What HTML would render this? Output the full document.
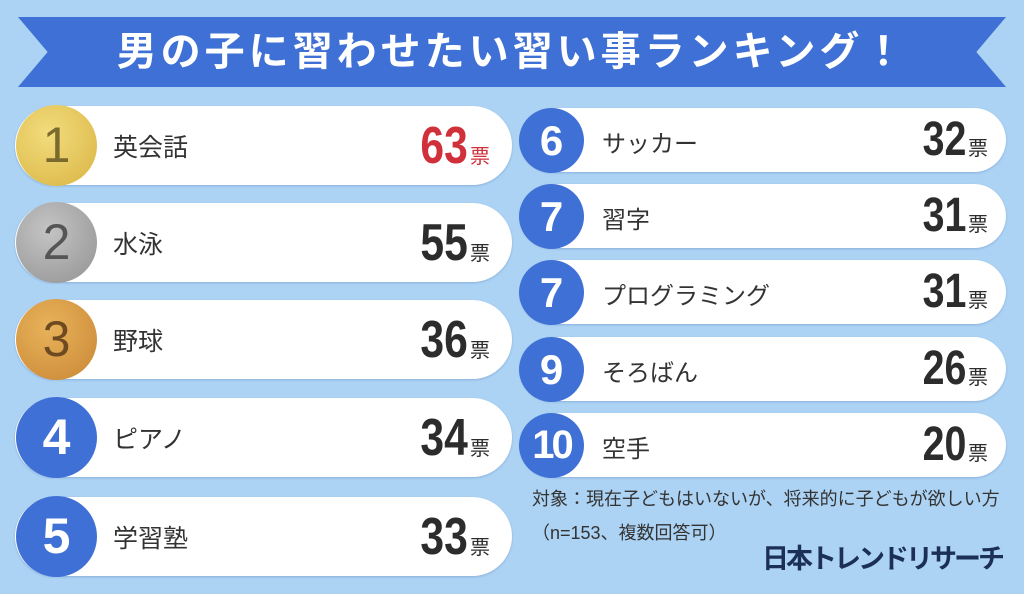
<!DOCTYPE html>
<html><head><meta charset="utf-8"><style>
*{margin:0;padding:0;box-sizing:border-box}
body{width:1024px;height:594px;background:#acd3f4;position:relative;overflow:hidden;font-family:"Liberation Sans","Noto Sans CJK JP",sans-serif;color:#333}
.ban{position:absolute;left:18px;top:17px;width:988px;height:70px;background:#3f70d5;clip-path:polygon(0 0,100% 0,97% 50%,100% 100%,0 100%,3% 50%)}
.title{position:absolute;left:0;width:1024px;top:22px;text-align:center;color:#fff;font-size:40px;font-weight:bold;line-height:60px;letter-spacing:4px}
.pill{position:absolute;background:#fff;border-radius:40px;box-shadow:0 1px 2px rgba(60,100,160,.3)}
.c{position:absolute;border-radius:50%;text-align:center;color:#fff;font-weight:bold}
.nm{position:absolute;font-size:25px;color:#333}
.v{position:absolute;text-align:right;font-weight:bold;color:#2c2c2c}
.v span.n{display:inline-block;transform:scaleX(.82);transform-origin:right center}
.v span.t{font-size:20px;font-weight:normal;margin-left:2px}
</style></head><body>
<div class="ban"></div>
<div class="title">男の子に習わせたい習い事ランキング！</div>

<!-- left -->
<div class="pill" style="left:15px;top:106px;width:497px;height:79px"></div>
<div class="c" style="left:16px;top:105px;width:81px;height:81px;background:radial-gradient(circle at 40% 35%,#f2dc7c,#d9b443);color:#7a6a2e;font-size:50px;line-height:81px;font-weight:normal">1</div>
<div class="nm" style="left:113px;top:128px">英会話</div>
<div class="v" style="left:300px;width:190px;top:118px;color:#d0303a"><span class="n" style="font-size:52px;line-height:56px">63</span><span class="t" style="color:#d0303a">票</span></div>

<div class="pill" style="left:15px;top:203px;width:497px;height:79px"></div>
<div class="c" style="left:16px;top:202px;width:81px;height:81px;background:radial-gradient(circle at 40% 35%,#c4c4c4,#929292);color:#555;font-size:50px;line-height:81px;font-weight:normal">2</div>
<div class="nm" style="left:113px;top:225px">水泳</div>
<div class="v" style="left:300px;width:190px;top:215px"><span class="n" style="font-size:52px;line-height:56px">55</span><span class="t">票</span></div>

<div class="pill" style="left:15px;top:300px;width:497px;height:79px"></div>
<div class="c" style="left:16px;top:299px;width:81px;height:81px;background:radial-gradient(circle at 40% 35%,#e8b35a,#c98635);color:#6e4a20;font-size:50px;line-height:81px;font-weight:normal">3</div>
<div class="nm" style="left:113px;top:322px">野球</div>
<div class="v" style="left:300px;width:190px;top:312px"><span class="n" style="font-size:52px;line-height:56px">36</span><span class="t">票</span></div>

<div class="pill" style="left:15px;top:398px;width:497px;height:79px"></div>
<div class="c" style="left:16px;top:397px;width:81px;height:81px;background:#3f70d5;font-size:50px;line-height:81px">4</div>
<div class="nm" style="left:113px;top:420px">ピアノ</div>
<div class="v" style="left:300px;width:190px;top:410px"><span class="n" style="font-size:52px;line-height:56px">34</span><span class="t">票</span></div>

<div class="pill" style="left:15px;top:497px;width:497px;height:79px"></div>
<div class="c" style="left:16px;top:496px;width:81px;height:81px;background:#3f70d5;font-size:50px;line-height:81px">5</div>
<div class="nm" style="left:113px;top:519px">学習塾</div>
<div class="v" style="left:300px;width:190px;top:509px"><span class="n" style="font-size:52px;line-height:56px">33</span><span class="t">票</span></div>

<!-- right -->
<div class="pill" style="left:520px;top:108px;width:486px;height:64px"></div>
<div class="c" style="left:519px;top:108px;width:65px;height:65px;background:#3f70d5;font-size:42px;line-height:65px">6</div>
<div class="nm" style="left:602px;top:124px;font-size:24px">サッカー</div>
<div class="v" style="left:780px;width:208px;top:114px"><span class="n" style="font-size:48px;line-height:52px">32</span><span class="t">票</span></div>

<div class="pill" style="left:520px;top:184px;width:486px;height:64px"></div>
<div class="c" style="left:519px;top:184px;width:65px;height:65px;background:#3f70d5;font-size:42px;line-height:65px">7</div>
<div class="nm" style="left:602px;top:200px;font-size:24px">習字</div>
<div class="v" style="left:780px;width:208px;top:190px"><span class="n" style="font-size:48px;line-height:52px">31</span><span class="t">票</span></div>

<div class="pill" style="left:520px;top:260px;width:486px;height:64px"></div>
<div class="c" style="left:519px;top:260px;width:65px;height:65px;background:#3f70d5;font-size:42px;line-height:65px">7</div>
<div class="nm" style="left:602px;top:276px;font-size:24px">プログラミング</div>
<div class="v" style="left:780px;width:208px;top:266px"><span class="n" style="font-size:48px;line-height:52px">31</span><span class="t">票</span></div>

<div class="pill" style="left:520px;top:337px;width:486px;height:64px"></div>
<div class="c" style="left:519px;top:337px;width:65px;height:65px;background:#3f70d5;font-size:42px;line-height:65px">9</div>
<div class="nm" style="left:602px;top:353px;font-size:24px">そろばん</div>
<div class="v" style="left:780px;width:208px;top:343px"><span class="n" style="font-size:48px;line-height:52px">26</span><span class="t">票</span></div>

<div class="pill" style="left:520px;top:413px;width:486px;height:64px"></div>
<div class="c" style="left:519px;top:413px;width:65px;height:65px;background:#3f70d5;font-size:40px;line-height:65px;letter-spacing:-3px">10</div>
<div class="nm" style="left:602px;top:429px;font-size:24px">空手</div>
<div class="v" style="left:780px;width:208px;top:419px"><span class="n" style="font-size:48px;line-height:52px">20</span><span class="t">票</span></div>

<div style="position:absolute;left:532px;top:482px;font-size:18px;line-height:34px;color:#333;white-space:nowrap">対象：現在子どもはいないが、将来的に子どもが欲しい方<br>（n=153、複数回答可）</div>
<div style="position:absolute;left:762px;top:542px;font-size:27px;line-height:34px;font-weight:bold;color:#1c2f55;letter-spacing:-3px;white-space:nowrap">日本トレンドリサーチ</div>
</body></html>
